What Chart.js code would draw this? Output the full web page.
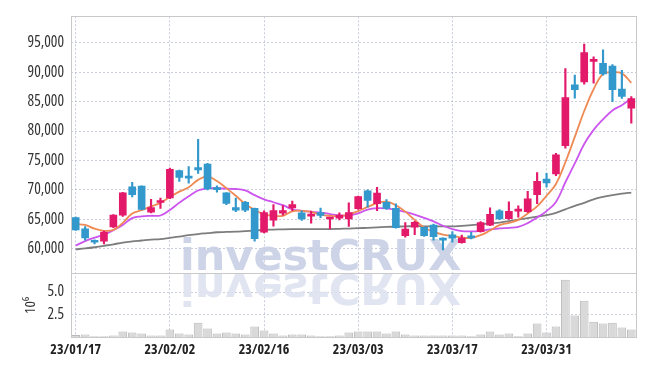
<!DOCTYPE html>
<html>
<head>
<meta charset="utf-8">
<script src="https://cdn.jsdelivr.net/npm/chart.js@4.4.1/dist/chart.umd.min.js"></script>
<style>
  html, body { margin: 0; padding: 0; background: #fff; }
  #wrap { width: 645px; height: 366px; }
</style>
</head>
<body>
<div id="wrap"><canvas id="grafico"></canvas></div>
<script>
// dias de pregão (aa/mm/dd)
const labels = [
  '23/01/17','23/01/18','23/01/19','23/01/20','23/01/25','23/01/26','23/01/27','23/01/30','23/01/31','23/02/01',
  '23/02/02','23/02/03','23/02/06','23/02/07','23/02/08','23/02/09','23/02/10','23/02/13','23/02/14','23/02/15',
  '23/02/16','23/02/17','23/02/20','23/02/21','23/02/22','23/02/23','23/02/24','23/02/27','23/02/28','23/03/02',
  '23/03/03','23/03/06','23/03/07','23/03/08','23/03/09','23/03/10','23/03/13','23/03/14','23/03/15','23/03/16',
  '23/03/17','23/03/20','23/03/21','23/03/22','23/03/23','23/03/24','23/03/27','23/03/28','23/03/29','23/03/30',
  '23/03/31','23/04/03','23/04/04','23/04/05','23/04/06','23/04/07','23/04/10','23/04/11','23/04/12','23/04/13'
];

const abertura = [
  65300, 63400, 61250, 61300, 63700, 65700, 70500, 70650, 66200, 67850,
  68650, 73300, 72150, 73800, 74400, 70300, 69500, 67000, 67900, 66850,
  62800, 64850, 66050, 66950, 66100, 65550, 66150, 65050, 65200, 65050,
  66800, 69850, 67650, 67900, 66850, 62200, 63650, 63650, 64000, 61800,
  62350, 61050, 62000, 62900, 64000, 66450, 65100, 66400, 66300, 69200,
  71850, 72700, 77500, 87850, 88350, 91850, 91500, 91050, 87150, 83900
];
const maxima = [
  65400, 63750, 61500, 63000, 65800, 69600, 71300, 70700, 68400, 68600,
  73700, 73350, 73950, 78600, 74500, 70700, 69550, 68600, 68050, 66900,
  66450, 67500, 67350, 68100, 66450, 66400, 66900, 65300, 66100, 67800,
  68950, 70000, 70450, 68350, 67650, 64450, 64650, 63700, 64200, 61850,
  62900, 62300, 62800, 64600, 66950, 66650, 67950, 67300, 69750, 72950,
  72800, 76200, 90600, 89500, 94800, 92600, 93800, 91300, 90300, 85850
];
const minima = [
  63100, 61450, 60800, 60800, 63600, 65500, 68800, 66600, 66100, 66850,
  68500, 71450, 71150, 72800, 70000, 69600, 67500, 66300, 66300, 61300,
  62700, 63850, 65700, 66450, 64800, 64350, 65300, 63350, 64900, 63800,
  66700, 67050, 66450, 66700, 63500, 61950, 62400, 62100, 61450, 59800,
  61100, 60950, 61650, 62800, 63900, 64950, 65000, 65350, 66150, 67650,
  70450, 72400, 77100, 85600, 87950, 88150, 89500, 85000, 85550, 81350
];
const fechamento = [
  63200, 61850, 61100, 62850, 65700, 69500, 69200, 66700, 67000, 68100,
  73500, 72100, 72000, 73400, 70150, 70050, 67700, 66550, 66550, 61700,
  66150, 66500, 66500, 67500, 65050, 65850, 65650, 65200, 65700, 66150,
  68850, 68200, 69450, 66850, 63600, 63350, 64500, 62200, 62050, 61450,
  61800, 61800, 61850, 64450, 65850, 65050, 66350, 66700, 68500, 71450,
  71200, 75950, 85700, 87050, 93350, 92150, 89700, 87050, 85900, 85500
];

// volume em milhões
const volume = [
  0.22, 0.29, 0.07, 0.07, 0.18, 0.62, 0.51, 0.40, 0.18, 0.18,
  0.83, 0.40, 0.29, 1.59, 0.94, 0.40, 0.51, 0.40, 0.29, 1.16,
  0.72, 0.40, 0.18, 0.29, 0.29, 0.18, 0.07, 0.07, 0.18, 0.51,
  0.62, 0.62, 0.62, 0.40, 0.62, 0.29, 0.18, 0.18, 0.18, 0.18,
  0.18, 0.18, 0.07, 0.29, 0.62, 0.29, 0.40, 0.07, 0.40, 1.49,
  0.51, 1.16, 6.38, 2.39, 4.02, 1.70, 1.49, 1.59, 1.05, 0.83
];

// médias móveis
const media5 = [
  64150, 64050, 63400, 63050, 63200, 64400, 66000, 66550, 67200, 67800,
  68800, 69700, 70450, 71700, 72300, 71500, 70300, 69000, 67600, 66600,
  65850, 65600, 65600, 66350, 66450, 66250, 65800, 65600, 65550, 65850,
  66400, 67100, 67750, 68000, 67400, 66300, 64900, 63600, 62850, 62400,
  62150, 61900, 61850, 62300, 63100, 64000, 64400, 64900, 66000, 67200,
  69000, 71000, 74700, 79000, 83400, 87100, 89700, 90000, 89800, 88200
];
const media20 = [
  60550, 61300, 61900, 62400, 63150, 64050, 65200, 65500, 65600, 65650,
  66600, 67800, 68900, 69900, 70250, 70280, 70200, 70150, 69900, 69100,
  68400, 67900, 67400, 66700, 66450, 66280, 66150, 65900, 65650, 65650,
  66000, 66650, 66900, 66850, 66600, 66250, 65800, 65250, 64650, 63900,
  63350, 63000, 62950, 63050, 63300, 63450, 63550, 63700, 64350, 65300,
  66400, 67950, 71300, 74500, 77800, 80200, 82000, 83500, 84400, 85500
];
const media60 = [
  59900, 60050, 60250, 60500, 60750, 61050, 61250, 61400, 61550, 61650,
  61850, 62050, 62300, 62500, 62650, 62800, 62850, 62900, 63000, 63100,
  63200, 63250, 63300, 63330, 63330, 63330, 63330, 63330, 63380, 63430,
  63500, 63550, 63620, 63700, 63750, 63800, 63850, 63800, 63800, 63800,
  63800, 63900, 64000, 64150, 64300, 64450, 64700, 64950, 65200, 65450,
  65700, 66100, 66700, 67300, 67800, 68400, 68800, 69100, 69350, 69550
];

const ticksPreco = [60000, 65000, 70000, 75000, 80000, 85000, 90000, 95000];
const ticksVolume = [2.5, 5.0];

// =========================
// cores
// =========================
const corAlta = '#e3196a';
const corBaixa = '#3399cc';
const corCandle = fechamento.map((c, i) => c >= abertura[i] ? corAlta : corBaixa);
const corGrade = 'rgba(170,176,200,0.65)';

// marca d'água "investCRUX" com reflexo
const marcaDagua = {
  id: 'marcaDagua',
  beforeDatasetsDraw(chart) {
    const ctx = chart.ctx;
    ctx.save();
    ctx.font = 'bold 43px "DejaVu Sans"';
    ctx.textBaseline = 'alphabetic';
    ctx.fillStyle = 'rgba(200,207,228,0.9)';
    ctx.fillText('investCRUX', 180, 270);
    ctx.translate(0, 544);
    ctx.scale(1, -1);
    ctx.fillStyle = 'rgba(222,226,240,0.9)';
    ctx.fillText('investCRUX', 180, 270);
    ctx.restore();
  }
};

// molduras dos dois painéis
const moldura = {
  id: 'moldura',
  afterDraw(chart) {
    const ctx = chart.ctx;
    const area = chart.chartArea;
    ctx.save();
    ctx.strokeStyle = '#c9c9c9';
    ctx.lineWidth = 1;
    ['y', 'y2'].forEach(id => {
      const s = chart.scales[id];
      ctx.strokeRect(Math.round(area.left) + 0.5, Math.round(s.top) + 0.5,
        Math.round(area.right - area.left), Math.round(s.bottom - s.top));
    });
    ctx.restore();
  }
};

// fontes estreitas (font-stretch passado junto com o peso)
const fontePreco = { family: '"Open Sans"', size: 15.5, weight: 'condensed 500' };
const fonteData = { family: '"Open Sans"', size: 14, weight: 'condensed bold' };

new Chart(document.getElementById('grafico'), {
  type: 'bar',
  data: {
    labels: labels,
    datasets: [
      {
        label: 'pavio',
        data: maxima.map((h, i) => [minima[i], h]),
        backgroundColor: corCandle,
        barThickness: 1.5,
        grouped: false,
        yAxisID: 'y',
        order: 1
      },
      {
        label: 'corpo',
        data: abertura.map((o, i) => [o, fechamento[i]]),
        backgroundColor: corCandle,
        barThickness: 7,
        minBarLength: 2,
        grouped: false,
        yAxisID: 'y',
        order: 0
      },
      {
        type: 'line', label: 'MA5', data: media5, yAxisID: 'y',
        borderColor: '#ef8a55', borderWidth: 1.8, pointRadius: 0, tension: 0.4, order: 2
      },
      {
        type: 'line', label: 'MA20', data: media20, yAxisID: 'y',
        borderColor: '#cc55ee', borderWidth: 1.8, pointRadius: 0, tension: 0.4, order: 3
      },
      {
        type: 'line', label: 'MA60', data: media60, yAxisID: 'y',
        borderColor: '#7d7d7d', borderWidth: 1.8, pointRadius: 0, tension: 0.4, order: 4
      },
      {
        label: 'Volume',
        data: volume,
        yAxisID: 'y2',
        backgroundColor: '#d9d9d9',
        borderColor: '#b9b9b9',
        borderWidth: 1,
        barPercentage: 1,
        categoryPercentage: 0.92,
        grouped: false,
        order: 5
      }
    ]
  },
  options: {
    responsive: true,
    maintainAspectRatio: false,
    animation: false,
    layout: { padding: { top: 9, right: 9, left: 0, bottom: 0 } },
    plugins: { legend: { display: false }, tooltip: { enabled: false } },
    scales: {
      x: {
        type: 'category',
        offset: true,
        grid: {
          offset: false,
          drawTicks: false,
          color: ctx => (ctx.index % 10 === 0 ? corGrade : 'transparent')
        },
        border: { display: false, dash: [2, 2] },
        ticks: {
          autoSkip: false,
          maxRotation: 0,
          padding: 5,
          color: '#222',
          font: fonteData,
          callback: (v, i) => (i % 10 === 0 ? labels[i] : '')
        },
        afterFit: s => { s.height = 29; }
      },
      y: {
        type: 'linear',
        position: 'left',
        stack: 'painel',
        stackWeight: 263,
        weight: 1,
        min: 55800,
        max: 99500,
        afterBuildTicks: s => { s.ticks = ticksPreco.map(v => ({ value: v })); },
        grid: { drawTicks: false, color: corGrade },
        border: { display: false, dash: [2, 2] },
        ticks: {
          autoSkip: false,
          padding: 7,
          color: '#333',
          font: fontePreco,
          callback: v => v.toLocaleString('en-US')
        },
        afterFit: s => { s.width = 71; }
      },
      y2: {
        type: 'linear',
        position: 'left',
        stack: 'painel',
        stackWeight: 65,
        weight: 0,
        min: 0,
        max: 7.07,
        afterBuildTicks: s => { s.ticks = ticksVolume.map(v => ({ value: v })); },
        grid: { drawTicks: false, color: corGrade },
        border: { display: false, dash: [2, 2] },
        title: {
          display: true,
          text: '10\u2076',
          color: '#333',
          font: { family: '"Open Sans"', size: 15, weight: 'condensed normal' },
          padding: { top: 22, bottom: 0 }
        },
        ticks: {
          autoSkip: false,
          padding: 7,
          color: '#333',
          font: fontePreco,
          callback: v => v.toFixed(1)
        },
        afterFit: s => { s.width = 71; }
      }
    }
  },
  plugins: [marcaDagua, moldura]
});
</script>
</body>
</html>
